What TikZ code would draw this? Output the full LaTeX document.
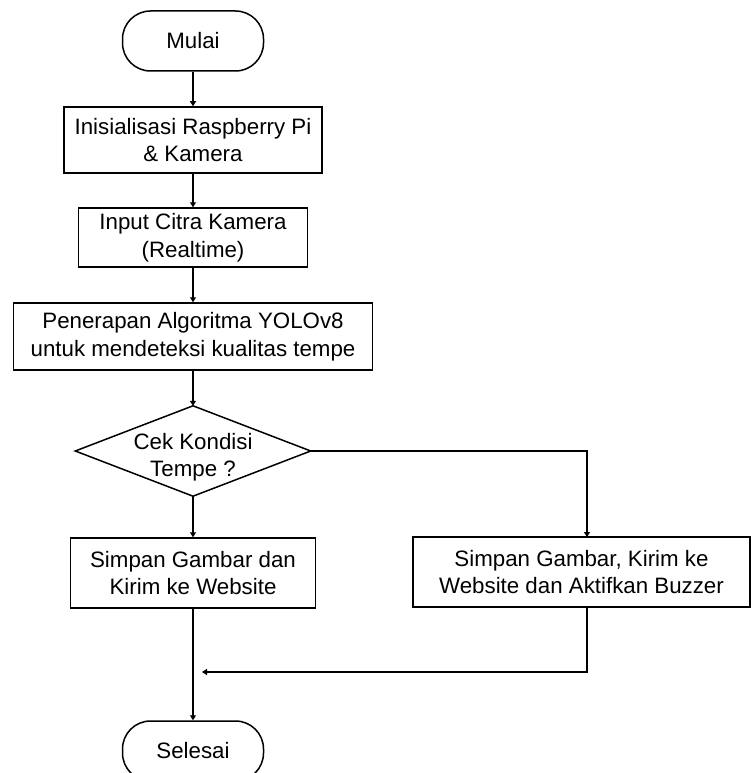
\documentclass[tikz,border=0pt]{standalone}
\usepackage{fontspec}
\setmainfont{Liberation Sans}
\usetikzlibrary{arrows.meta}
\tikzset{
  txt/.style={font=\fontsize{22.3}{27.5}\selectfont},
  base/.style={draw, line width=1.5pt, align=center, inner sep=0pt, txt},
  term/.style={base, rounded corners=28pt, minimum width=141pt, minimum height=60pt},
  proc/.style={base, rectangle},
  arr/.style={line width=1.5pt, -{Triangle[width=6pt,length=5pt]}},
  conn/.style={line width=1.5pt}
}
\begin{document}
\begin{tikzpicture}[x=1pt,y=-1pt]
\useasboundingbox (0,0) rectangle (751,773);
\clip (0,0) rectangle (751,773);
\node[term] (mulai) at (193,41) {Mulai};
\node[proc, minimum width=258pt, minimum height=66pt] (b1) at (193,140) {Inisialisasi Raspberry Pi\\\& Kamera};
\node[proc, minimum width=229pt, minimum height=59pt] (b2) at (193,237.5) {Input Citra Kamera\\(Realtime)};
\node[proc, minimum width=359pt, minimum height=67pt] (b3) at (193,336.5) {Penerapan Algoritma YOLOv8\\untuk mendeteksi kualitas tempe};
\node[minimum width=235pt, minimum height=90pt, inner sep=0pt] (d) at (193,451) {};
\draw[conn, line join=miter] (d.west) -- (d.north) -- (d.east) -- (d.south) -- cycle;
\node[align=center, inner sep=0pt, txt] (dt) at (193,457) {Cek Kondisi\\Tempe ?};
\node[proc, minimum width=245pt, minimum height=70pt] (b4) at (193,573) {Simpan Gambar dan\\Kirim ke Website};
\node[proc, minimum width=337pt, minimum height=70pt] (b5) at (581.5,572) {Simpan Gambar, Kirim ke\\Website dan Aktifkan Buzzer};
\node[term] (sel) at (193,751) {Selesai};
\coordinate (b5in) at (587,537);
\coordinate (b5out) at (587,607);
\coordinate (ret) at (202,672);
\draw[arr] (mulai) -- (b1);
\draw[arr] (b1) -- (b2);
\draw[arr] (b2) -- (b3);
\draw[arr] (b3.south) -- (d.north);
\draw[arr] (d.south) -- (b4.north);
\draw[arr] (d.east) -| (b5in);
\draw[arr] (b5out) |- (ret);
\draw[arr] (b4.south) -- (sel.north);
\end{tikzpicture}
\end{document}
